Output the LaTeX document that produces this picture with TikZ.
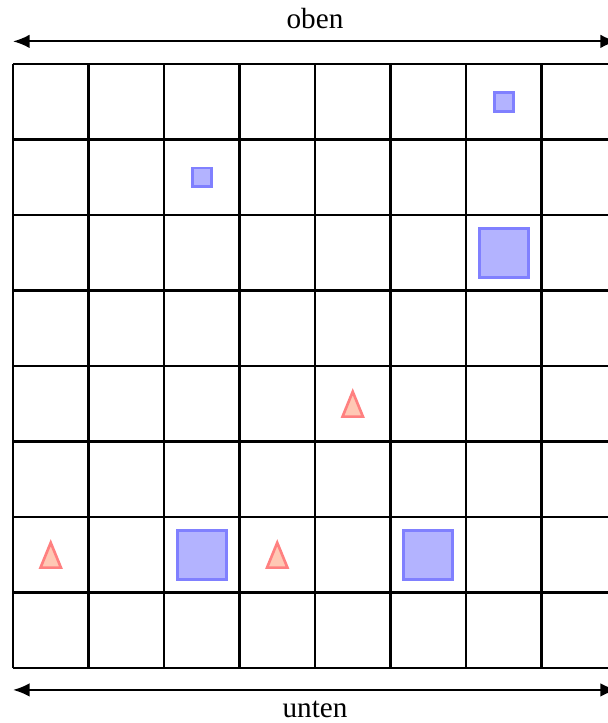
\documentclass[tikz,border=0pt]{standalone}
\usepackage{fontspec}
\setmainfont{Liberation Serif}
\usepackage{tikz}
\usetikzlibrary{arrows.meta}
\definecolor{sqfill}{RGB}{179, 179, 255}
\definecolor{sqdraw}{RGB}{128, 128, 255}
\definecolor{trifill}{RGB}{255, 200, 180}
\definecolor{tridraw}{RGB}{255, 128, 128}

\begin{document}
\begin{tikzpicture}[font=\fontsize{11}{13}\selectfont]
  \useasboundingbox (-0.172,-0.728) rectangle (7.88,8.848);

  % Raster
  \draw[thick] (0,0) grid (8,8);

  % Bemassung oben und unten
  \coordinate (ol) at (0,8.3);
  \coordinate (or) at (8,8.3);
  \coordinate (ul) at (0,-0.29);
  \coordinate (ur) at (8,-0.29);
  \draw[{Latex[length=2.2mm,width=1.8mm]}-{Latex[length=2.2mm,width=1.8mm]}, thick] (ol) -- (or) node[midway, above=1pt] (oben) {oben};
  \draw[{Latex[length=2.2mm,width=1.8mm]}-{Latex[length=2.2mm,width=1.8mm]}, thick] (ul) -- (ur) node[midway, below=0.5pt] (unten) {unten};

  % Kleine Quadrate
  \foreach \x/\y in {6.5/7.5, 2.5/6.5} {
    \filldraw[sqdraw, fill=sqfill, line width=1pt] (\x-0.125,\y-0.125) rectangle (\x+0.125,\y+0.125);
  }

  % Grosse Quadrate
  \foreach \x/\y in {6.5/5.5, 2.5/1.5, 5.5/1.5} {
    \filldraw[sqdraw, fill=sqfill, line width=1pt] (\x-0.325,\y-0.325) rectangle (\x+0.325,\y+0.325);
  }

  % Dreiecke
  \foreach \x/\y in {0.5/1.5, 3.5/1.5, 4.5/3.5} {
    \filldraw[tridraw, fill=trifill, line width=1pt] (\x-0.135,\y-0.17) -- (\x+0.135,\y-0.17) -- (\x,\y+0.16) -- cycle;
  }
\end{tikzpicture}
\end{document}
